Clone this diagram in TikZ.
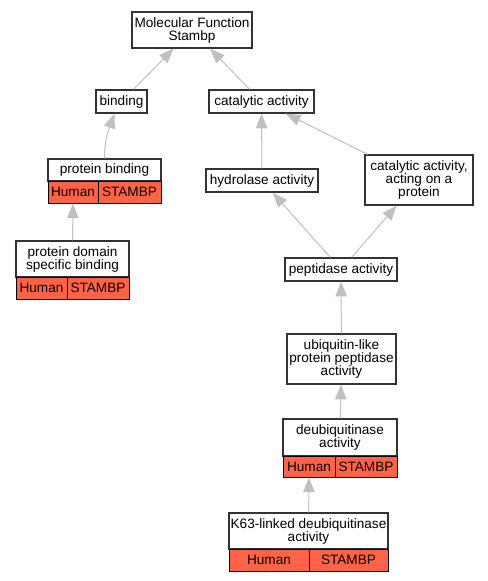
\documentclass[tikz,border=0pt]{standalone}
\usepackage{fontspec}
\setmainfont{Liberation Sans}
\usepackage{tikz}
\usetikzlibrary{arrows.meta}
\definecolor{tomato}{HTML}{FF6347}
\definecolor{isagray}{HTML}{C0C0C0}

\begin{document}
\begin{tikzpicture}[x=0.75pt,y=-0.75pt,
		term/.style={draw=black!80,line width=1pt,fill=white,inner sep=0pt,align=center,font=\fontsize{10.2}{9.75}\selectfont},
		cell/.style={draw=black,line width=0.75pt,fill=tomato,inner sep=0pt,font=\fontsize{10.2}{12}\selectfont},
		isa/.style={-{Triangle[length=11pt,width=8.5pt]},draw=isagray,line width=0.75pt}]
			\useasboundingbox (0,0) rectangle (488,581);
			% terms
			\node [term,minimum width=90pt,minimum height=27pt] (mf) at (192,30) {Molecular Function\\Stambp};
			\node [term,minimum width=38.25pt,minimum height=17.25pt] (bind) at (121.5,101.5) {binding};
			\node [term,minimum width=78.75pt,minimum height=17.25pt] (cat) at (261.5,101.5) {catalytic activity};
			\node [term,minimum width=84.75pt,minimum height=16.5pt] (pb) at (104.5,170) {protein binding};
			\node [cell,minimum width=37.5pt,minimum height=16.5pt] (pbh) at (73,192) {Human};
			\node [cell,minimum width=47.25pt,minimum height=16.5pt] (pbs) at (129.5,192) {STAMBP};
			\node [term,minimum width=84pt,minimum height=17.25pt] (hyd) at (262,180.5) {hydrolase activity};
			\node [term,minimum width=81pt,minimum height=37.5pt] (act) at (419,180) {catalytic activity,\\acting on a\\protein};
			\node [term,minimum width=84.75pt,minimum height=27pt] (pdb) at (72.5,259) {protein domain\\specific binding};
			\node [cell,minimum width=38.25pt,minimum height=16.5pt] (pdbh) at (41.5,288) {Human};
			\node [cell,minimum width=46.5pt,minimum height=16.5pt] (pdbs) at (98,288) {STAMBP};
			\node [term,minimum width=84pt,minimum height=17.25pt] (pep) at (341,269.5) {peptidase activity};
			\node [term,minimum width=81.75pt,minimum height=37.5pt] (ubq) at (341.5,359) {ubiquitin-like\\protein peptidase\\activity};
			\node [term,minimum width=85.5pt,minimum height=27.75pt] (deub) at (340,437.5) {deubiquitinase\\activity};
			\node [cell,minimum width=39pt,minimum height=15.75pt] (deubh) at (309,466.5) {Human};
			\node [cell,minimum width=46.5pt,minimum height=15.75pt] (deubs) at (366,466.5) {STAMBP};
			\node [term,minimum width=119.25pt,minimum height=27pt] (k63) at (308.5,531) {K63-linked deubiquitinase\\activity};
			\node [cell,minimum width=60pt,minimum height=16.5pt] (k63h) at (269,560) {Human};
			\node [cell,minimum width=59.25pt,minimum height=16.5pt] (k63s) at (348.5,560) {STAMBP};
			% is_a edges
			\draw [isa] (bind) -- (mf);
			\draw [isa] (cat) -- (mf);
			\draw [isa] (pb) to[out=90,in=-110] (bind.240);
			\draw [isa] (hyd) -- (cat);
			\draw [isa] (act) -- (cat);
			\draw [isa] (pdb) -- (pbh);
			\draw [isa] (pep) -- (hyd);
			\draw [isa] (pep) -- (act);
			\draw [isa] (ubq) -- (pep);
			\draw [isa] (deub) -- (ubq);
			\draw [isa] (k63) -- (deubh);
		\end{tikzpicture}
\end{document}
